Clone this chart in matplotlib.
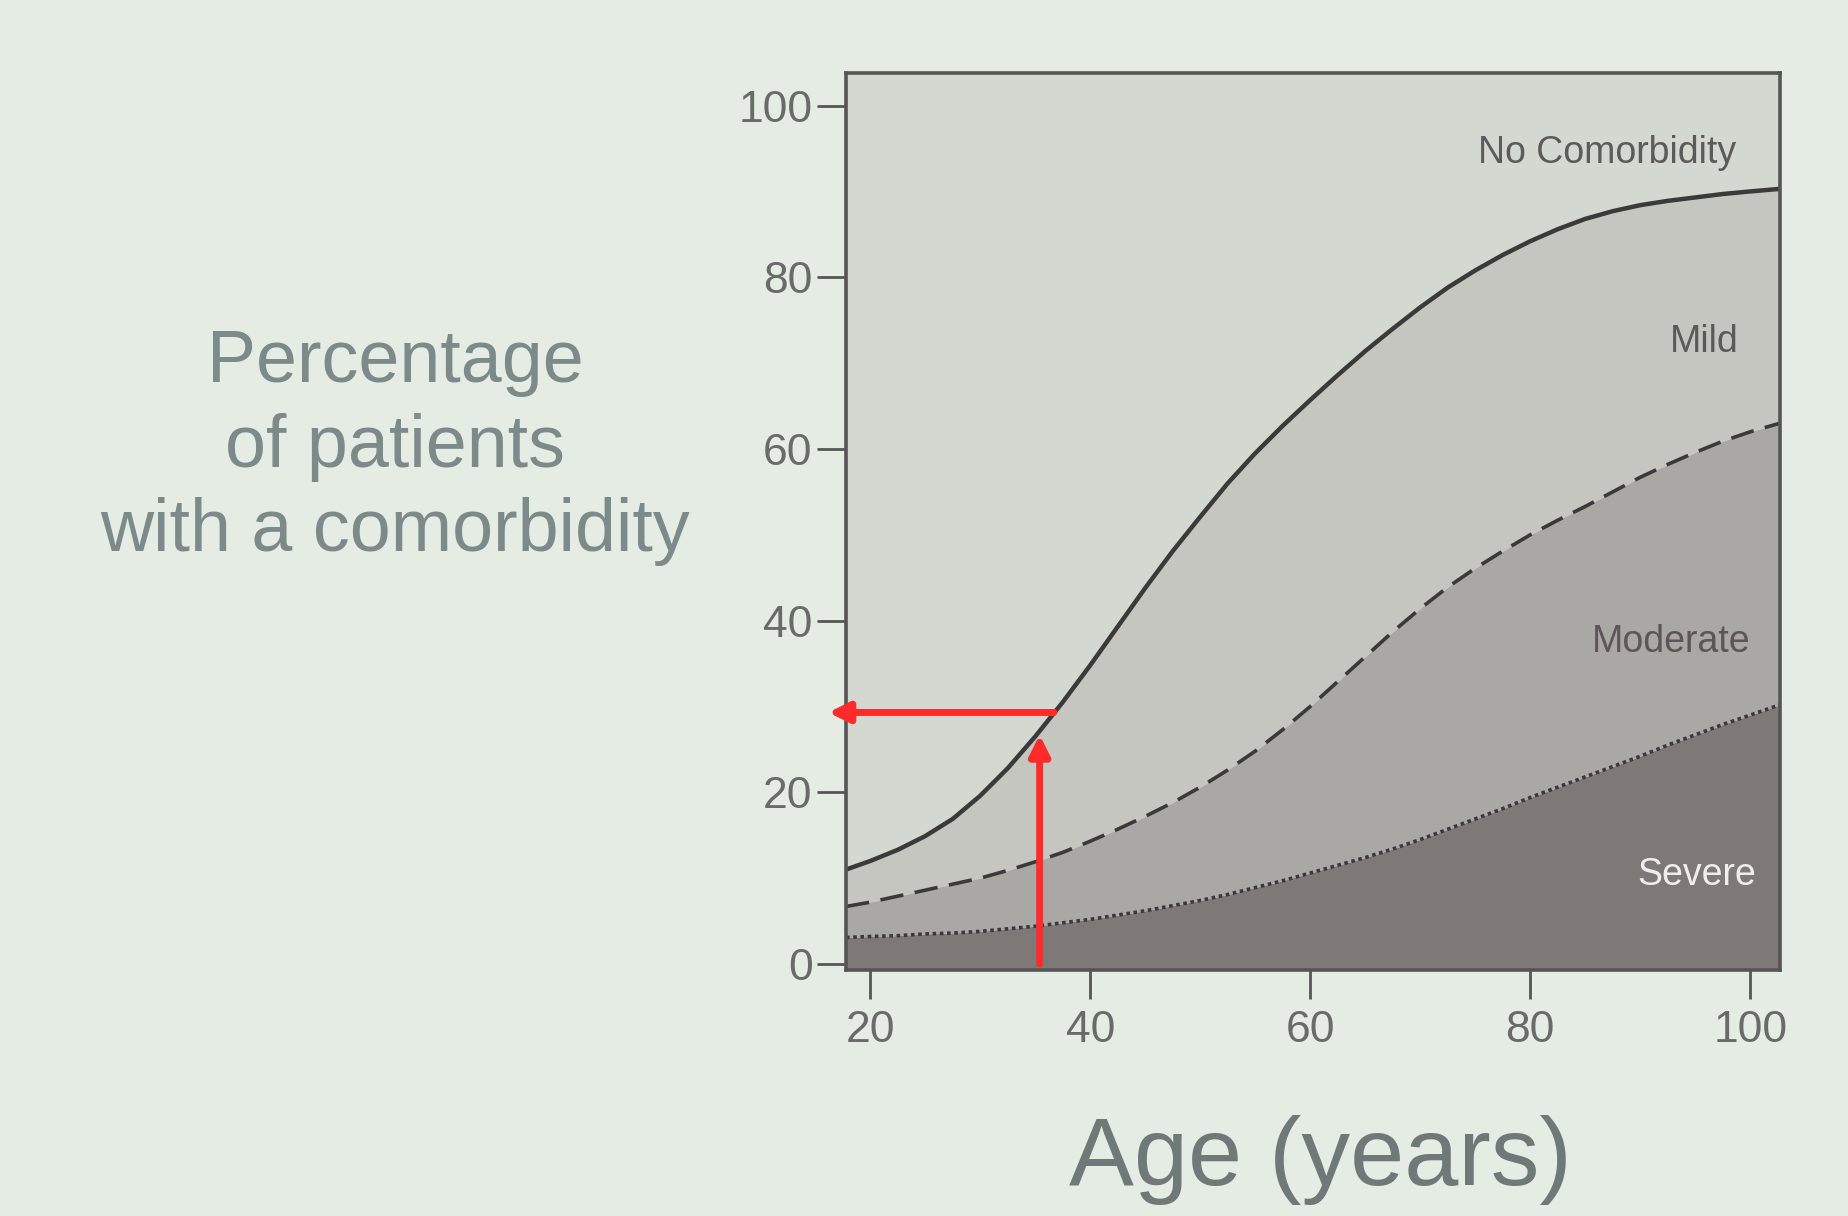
import matplotlib
matplotlib.use("Agg")
import matplotlib.pyplot as plt

plt.rcParams['font.family'] = ['Liberation Sans', 'DejaVu Sans']

# ---- data ----
ages = [17.8, 20, 22.5, 25, 27.5, 30, 32.5, 35, 37.5, 40, 42.5, 45, 47.5, 50, 52.5, 55,
        57.5, 60, 62.5, 65, 67.5, 70, 72.5, 75, 77.5, 80, 82.5, 85, 87.5, 90, 92.5, 95,
        97.5, 100, 102.7]
# cumulative percentage: any comorbidity (top of "Mild")
any_comorb = [11.0, 12.0, 13.3, 14.9, 16.9, 19.6, 22.8, 26.5, 30.5, 34.8, 39.3, 43.8,
              48.1, 52.1, 56.0, 59.5, 62.7, 65.7, 68.6, 71.4, 74.0, 76.5, 78.8, 80.8,
              82.6, 84.2, 85.6, 86.8, 87.7, 88.4, 88.9, 89.3, 89.7, 90.0, 90.3]
# cumulative percentage: moderate or severe (top of "Moderate")
mod_or_sev = [6.7, 7.2, 7.9, 8.6, 9.3, 10.0, 10.9, 11.9, 13.0, 14.3, 15.7, 17.2,
              18.8, 20.6, 22.6, 24.8, 27.3, 30.0, 32.9, 35.8, 38.7, 41.4, 43.9, 46.1,
              48.1, 50.0, 51.7, 53.3, 55.0, 56.7, 58.2, 59.6, 60.9, 62.0, 63.0]
# percentage severe (top of "Severe")
severe = [3.1, 3.2, 3.3, 3.5, 3.6, 3.8, 4.1, 4.4, 4.8, 5.2, 5.7, 6.2, 6.8, 7.4, 8.1,
          8.9, 9.7, 10.6, 11.5, 12.4, 13.4, 14.5, 15.7, 16.9, 18.1, 19.4, 20.6, 21.8,
          23.0, 24.2, 25.5, 26.7, 27.9, 29.0, 30.2]

region_labels = ["No Comorbidity", "Mild", "Moderate", "Severe"]
x_ticks = [20, 40, 60, 80, 100]
y_ticks = [0, 20, 40, 60, 80, 100]

arrow_age = 35.4
arrow_pct = 29.3

# ---- figure ----
bg = '#e4ece3'
fig = plt.figure(figsize=(18.48, 12.16), dpi=100, facecolor=bg)
ax = fig.add_axes([0.4578, 0.2023, 0.5054, 0.7377])

xmin, xmax = 17.8, 102.7
ymin, ymax = -0.7, 103.8
ax.set_xlim(xmin, xmax)
ax.set_ylim(ymin, ymax)

c_none = '#d3d8d0'
c_mild = '#c4c6bf'
c_mod = '#a9a8a4'
c_sev = '#7e7977'
line_c = '#3a3a3a'

ax.set_facecolor(c_none)
ax.fill_between(ages, ymin, severe, color=c_sev, lw=0)
ax.fill_between(ages, severe, mod_or_sev, color=c_mod, lw=0)
ax.fill_between(ages, mod_or_sev, any_comorb, color=c_mild, lw=0)

ax.plot(ages, any_comorb, color=line_c, lw=3.2, solid_joinstyle='round')
ax.plot(ages, mod_or_sev, color=line_c, lw=2.6, dashes=(6.5, 3.2))
ax.plot(ages, severe, color=line_c, lw=2.6, dashes=(1.0, 1.0))

# region labels
ax.text(98.7, 94.5, region_labels[0], ha='right', va='center', fontsize=27, color='#5a5c5a')
ax.text(98.9, 72.5, region_labels[1], ha='right', va='center', fontsize=27, color='#5a5a58')
ax.text(100.0, 37.5, region_labels[2], ha='right', va='center', fontsize=27, color='#5e5558')
ax.text(100.5, 10.4, region_labels[3], ha='right', va='center', fontsize=27, color='#eeeeee')

# red arrows
red = '#ff2b2b'
ax.annotate('', xy=(arrow_age, arrow_pct - 2.6), xytext=(arrow_age, 0),
            arrowprops=dict(arrowstyle='-|>', color=red, lw=5, mutation_scale=30,
                            shrinkA=0, shrinkB=0), annotation_clip=False)
ax.annotate('', xy=(16.2, arrow_pct), xytext=(arrow_age + 1.3, arrow_pct),
            arrowprops=dict(arrowstyle='-|>', color=red, lw=5, mutation_scale=30,
                            shrinkA=0, shrinkB=0), annotation_clip=False)

# axes styling
for s in ax.spines.values():
    s.set_color('#555555')
    s.set_linewidth(2.6)
ax.set_xticks(x_ticks)
ax.set_yticks(y_ticks)
ax.set_xticklabels([str(v) for v in x_ticks])
ax.set_yticklabels([str(v) for v in y_ticks])
ax.tick_params(axis='y', direction='out', length=21, width=2.0, color='#555555',
               labelsize=32, labelcolor='#6a6a6a', pad=3)
ax.tick_params(axis='x', direction='out', length=21, width=2.0, color='#555555',
               labelsize=32, labelcolor='#6a6a6a', pad=8)

# slide texts
fig.text(395 / 1848, 1 - 447 / 1216, "Percentage\nof patients\nwith a comorbidity",
         ha='center', va='center', multialignment='center', fontsize=53,
         color='#7d8a8a', linespacing=1.28)
fig.text(1320 / 1848, 1 - 1185 / 1216, "Age (years)", ha='center', va='baseline',
         fontsize=70, color='#6f7a78')

fig.savefig('out.png', dpi=100, facecolor=bg)
